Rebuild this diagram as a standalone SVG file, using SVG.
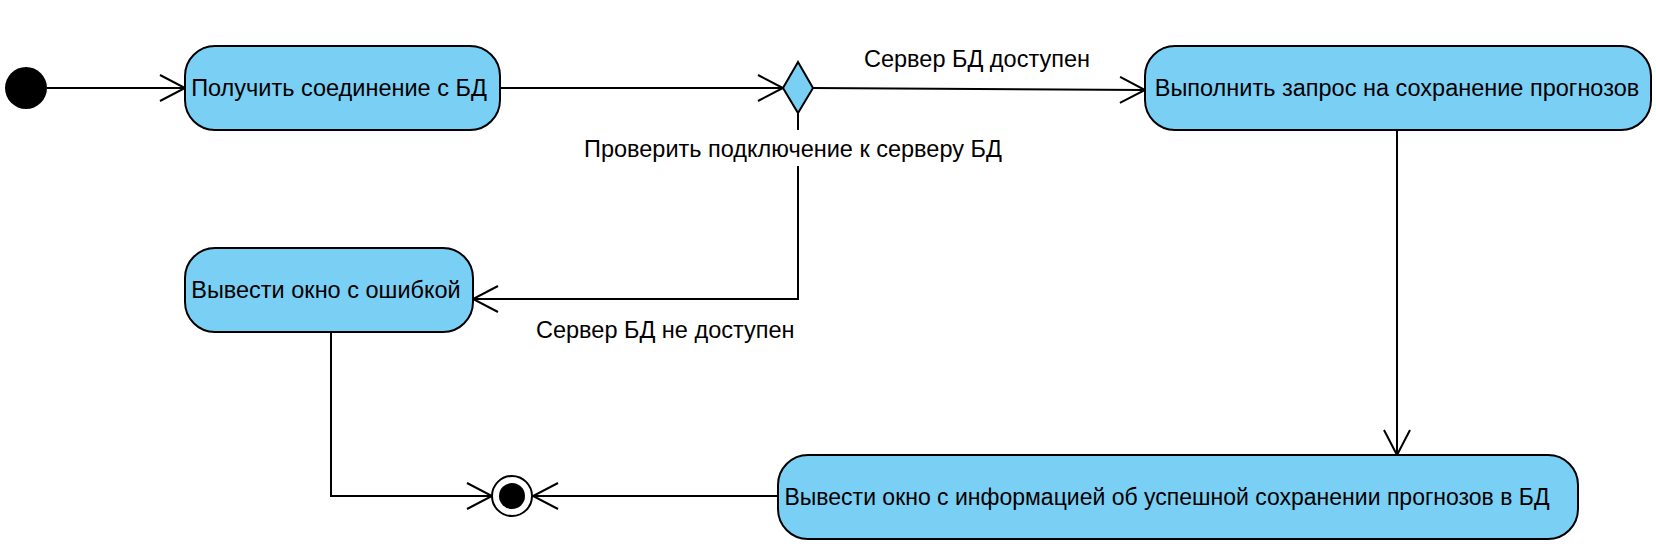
<svg xmlns="http://www.w3.org/2000/svg" width="1656" height="549" viewBox="0 0 1656 549">
<style>
.node{fill:#7ACFF5;stroke:#000;stroke-width:2}
.t{font-family:"Liberation Sans",Arial,sans-serif;font-size:23.5px;fill:#000;text-anchor:middle}
.l{font-family:"Liberation Sans",Arial,sans-serif;font-size:23.5px;fill:#000}
.e{fill:none;stroke:#000;stroke-width:2}
</style>
<defs>
<marker id="arr" markerWidth="30" markerHeight="30" refX="26" refY="14" orient="auto" markerUnits="userSpaceOnUse">
<path d="M1,1 L26,14 L1,27" fill="none" stroke="#000" stroke-width="2"/>
</marker>
</defs>
<rect width="1656" height="549" fill="#fff"/>
<g id="connectors">
<line class="e" x1="47" y1="88" x2="185" y2="88" marker-end="url(#arr)"/>
<line class="e" x1="500" y1="88" x2="783" y2="88" marker-end="url(#arr)"/>
<line class="e" x1="813" y1="88" x2="1145" y2="90" marker-end="url(#arr)"/>
<polyline class="e" points="798,113 798,299 473,299" marker-end="url(#arr)"/>
<line class="e" x1="1397" y1="130" x2="1397" y2="455" marker-end="url(#arr)"/>
<polyline class="e" points="331,332 331,496 492,496" marker-end="url(#arr)"/>
<line class="e" x1="778" y1="496" x2="533" y2="496" marker-end="url(#arr)"/>
<rect x="580" y="130" width="430" height="36" fill="#fff"/>
<text class="l" x="864" y="67">Сервер БД доступен</text>
<text class="l" x="584" y="157">Проверить подключение к серверу БД</text>
<text class="l" x="536" y="338">Сервер БД не доступен</text>
</g>
<g id="start"><circle cx="26" cy="88" r="21" fill="#000"/></g>
<g id="n1"><rect class="node" x="185" y="46" width="315" height="84" rx="30"/><text class="t" x="339" y="96">Получить соединение с БД</text></g>
<g id="decision"><polygon class="node" points="798,62 813,88 798,113 783,88"/></g>
<g id="n2"><rect class="node" x="1145" y="46" width="506" height="84" rx="30"/><text class="t" x="1397" y="96">Выполнить запрос на сохранение прогнозов</text></g>
<g id="n3"><rect class="node" x="185" y="248" width="288" height="84" rx="30"/><text class="t" x="326" y="298">Вывести окно с ошибкой</text></g>
<g id="n4"><rect class="node" x="778" y="455" width="800" height="84" rx="30"/><text class="t" x="1167" y="505" style="font-size:23px">Вывести окно с информацией об успешной сохранении прогнозов в БД</text></g>
<g id="end"><circle cx="512" cy="496" r="20" fill="#fff" stroke="#000" stroke-width="2"/><circle cx="512" cy="496" r="13" fill="#000"/></g>
</svg>
